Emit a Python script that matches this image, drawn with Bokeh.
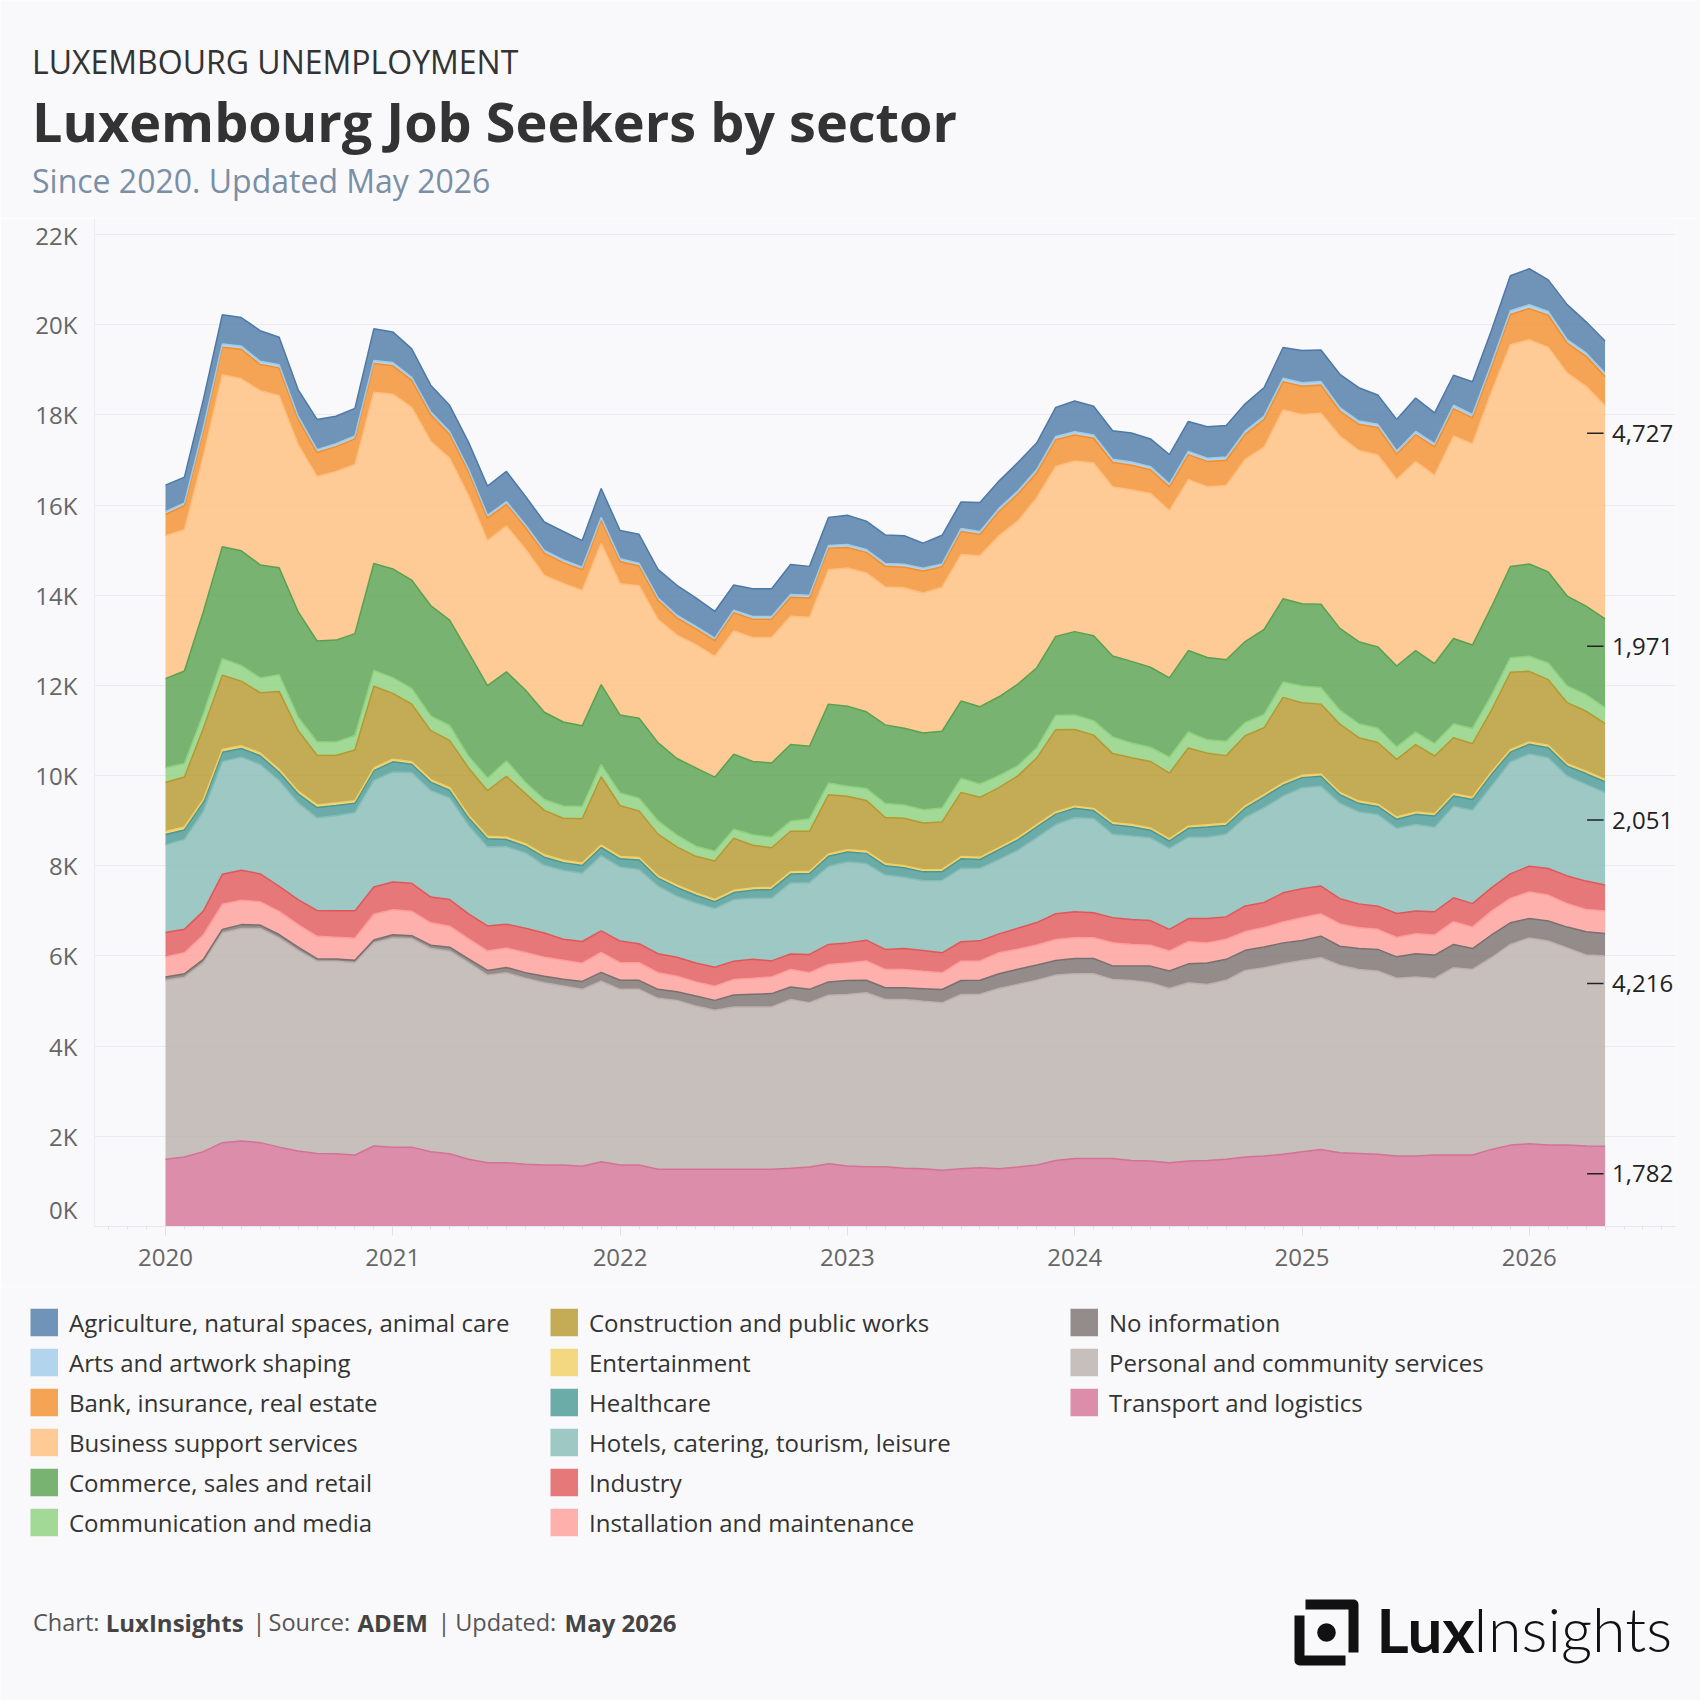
from bokeh.plotting import figure
from bokeh.models import ColumnDataSource, Range1d, FixedTicker
from bokeh.layouts import column
from bokeh.embed import file_html
from bokeh.resources import INLINE
from bokeh.core.properties import value

BG = "#f9f9fb"
FONT = "Open Sans"

# ---------------- data (monthly, Jan 2020 .. May 2026) ----------------
start_year = 2020
n_months = 77

sectors = [
    "Agriculture, natural spaces, animal care",
    "Arts and artwork shaping",
    "Bank, insurance, real estate",
    "Business support services",
    "Commerce, sales and retail",
    "Communication and media",
    "Construction and public works",
    "Entertainment",
    "Healthcare",
    "Hotels, catering, tourism, leisure",
    "Industry",
    "Installation and maintenance",
    "No information",
    "Personal and community services",
    "Transport and logistics",
]
colors = ["#4e79a7", "#a0cbe8", "#f28e2b", "#ffbe7d", "#59a14f", "#8cd17d", "#b6992d",
          "#f1ce63", "#499894", "#86bcb6", "#e15759", "#ff9d9a", "#79706e", "#bab0ac", "#d37295"]

agriculture = [590,570,620,650,630,680,610,590,670,610,610,700,680,630,590,580,590,650,670,630,630,630,590,640,630,
               645,630,665,630,590,560,615,615,665,640,620,650,630,635,635,555,635,590,645,605,630,590,645,680,635,630,
               645,615,650,665,700,700,605,630,680,715,700,740,740,650,700,740,685,665,725,740,775,800,700,775,690,715]
arts = [62,64,66,70,72,70,68,66,64,64,66,70,72,70,68,66,64,62,62,60,60,60,58,62,60,60,
        58,56,56,55,58,58,58,60,60,64,64,64,62,62,62,62,66,66,68,70,72,74,74,72,70,
        70,68,68,72,70,70,72,74,78,78,78,74,72,72,70,72,70,74,74,78,82,84,82,78,76,74]
bank = [470,530,565,610,655,580,620,565,530,550,565,635,630,595,585,525,530,495,480,480,495,460,460,510,495,435,
        420,385,350,350,400,405,405,420,430,475,455,455,455,455,490,455,510,475,540,595,555,590,575,550,545,
        545,525,525,555,560,560,555,615,625,625,625,555,580,610,560,595,630,615,575,550,670,690,715,660,665,645]
business = [3170,3135,3460,3815,3815,3865,3815,3705,3650,3740,3755,3800,3875,3835,3645,3595,3480,3220,3235,3125,3035,3075,3000,3135,2910,
            2940,2735,2735,2735,2680,2735,2750,2785,2845,2860,2980,3065,3080,3060,3120,3105,3195,3250,3345,3570,3620,3770,3770,3785,3830,3750,
            3805,3855,3710,3790,3790,3865,4040,4045,4190,4200,4235,4265,4240,4255,4140,4195,4175,4485,4465,4765,4920,4975,4980,4950,4875,4727]
commerce = [1975,2050,2260,2480,2540,2505,2370,2335,2235,2260,2260,2370,2410,2400,2445,2335,2295,2050,1975,2050,1935,1865,1790,1775,1730,
            1775,1735,1700,1735,1640,1665,1625,1645,1700,1605,1750,1775,1700,1745,1700,1700,1700,1715,1715,1750,1810,1775,1750,1850,1885,1795,
            1810,1775,1760,1805,1825,1805,1795,1885,1845,1825,1845,1815,1820,1805,1795,1805,1775,1890,1850,1960,2025,2045,2020,1995,1960,1971]
communication = [330,300,320,370,350,330,370,300,300,300,320,350,350,350,330,330,260,280,340,250,240,270,270,270,280,
                 280,295,260,225,220,200,235,235,225,280,260,225,265,310,295,295,310,310,295,265,225,225,320,320,320,370,
                 325,315,355,355,295,320,295,295,340,370,370,310,310,315,275,280,275,310,340,330,320,335,370,370,370,355]
construction = [1085,1110,1580,1645,1435,1335,1730,1345,1100,1050,1125,1815,1460,1275,1085,1050,1050,1010,1350,1110,985,930,985,1515,1125,
                1035,925,850,815,850,1155,945,875,900,885,1315,1185,1125,1020,1050,1035,1055,1425,1330,1330,1370,1480,1825,1700,1625,1530,
                1485,1475,1455,1735,1590,1500,1555,1480,1900,1610,1550,1515,1405,1370,1280,1495,1280,1245,1185,1370,1720,1565,1455,1355,1330,1235]
entertainment = [65,65,62,60,60,62,62,60,60,60,58,58,58,58,56,56,55,55,55,55,54,54,54,54,52,
                 52,52,50,50,50,50,50,50,50,50,50,50,50,50,48,48,48,48,48,48,48,48,48,48,48,48,
                 48,48,48,48,48,48,48,50,50,50,50,50,50,50,50,50,50,50,50,50,52,52,52,52,52,52]
healthcare = [230,210,200,210,190,195,185,200,225,225,205,215,225,180,185,170,170,185,155,145,180,170,170,180,185,
              210,175,195,170,155,155,180,195,195,205,220,220,225,205,210,195,195,215,195,220,230,240,230,210,175,210,
              205,170,165,195,225,195,210,240,240,225,220,185,190,180,200,225,250,225,240,265,215,215,225,220,240,240]
hotels = [1945,1995,2215,2500,2510,2425,2345,2145,2055,2105,2180,2365,2440,2460,2365,2255,1960,1750,1720,1675,1500,1530,1515,1670,1640,
          1650,1500,1355,1330,1300,1365,1355,1390,1575,1590,1735,1795,1700,1650,1580,1550,1605,1625,1610,1645,1730,1885,1980,2085,2090,1850,
          1850,1835,1795,1805,1805,1835,1960,2105,2145,2240,2215,2120,2040,2030,1890,1920,1875,2030,2070,2255,2485,2490,2455,2215,2145,2051]
industry = [540,520,530,665,665,620,555,555,575,590,605,605,615,620,570,590,555,555,530,540,540,465,480,475,480,
            420,420,420,420,420,405,420,355,345,405,445,445,460,445,465,460,445,430,445,420,465,495,570,575,555,555,
            555,545,480,515,540,495,570,555,645,645,615,560,530,515,530,500,515,530,520,515,545,570,590,615,630,575]
installation = [445,465,540,555,540,515,515,500,495,480,490,570,555,540,495,465,445,430,430,445,420,420,405,445,390,
                390,370,345,315,315,345,355,370,390,370,385,390,430,405,405,385,370,430,430,465,445,445,465,460,460,515,
                480,465,445,490,445,445,415,430,465,500,495,495,460,445,430,445,445,505,475,530,540,590,575,520,495,500]
no_information = [75,75,75,75,85,75,75,70,55,50,55,60,70,65,75,85,85,105,120,125,145,150,175,195,200,
                  200,200,190,220,220,265,280,295,275,295,295,310,275,260,260,280,295,310,310,325,335,340,325,340,340,300,
                  320,370,385,420,480,465,445,460,465,445,480,420,465,480,475,515,520,515,465,505,480,430,445,460,515,500]
personal = [3970,3990,4190,4655,4715,4750,4640,4450,4265,4270,4265,4510,4640,4625,4505,4495,4360,4160,4210,4125,4040,3970,3925,4005,3895,
            3895,3790,3745,3620,3525,3600,3600,3600,3745,3645,3740,3805,3860,3710,3745,3715,3715,3865,3845,4000,4050,4095,4110,4095,4095,3970,
            3990,3955,3865,3955,3900,3970,4140,4175,4225,4240,4250,4160,4080,4065,3940,3970,3915,4155,4115,4250,4450,4565,4525,4375,4235,4216]
transport = [1490,1540,1660,1860,1895,1860,1760,1675,1620,1615,1585,1785,1760,1760,1660,1615,1490,1415,1415,1380,1365,1365,1335,1435,1365,
             1365,1270,1270,1270,1270,1270,1270,1270,1290,1320,1390,1340,1325,1325,1290,1280,1245,1280,1305,1280,1320,1365,1465,1510,1510,1510,
             1465,1450,1415,1450,1465,1490,1540,1565,1600,1660,1710,1635,1620,1600,1565,1565,1585,1585,1585,1710,1805,1835,1805,1805,1785,1782]

series_values = [agriculture, arts, bank, business, commerce, communication, construction,
                 entertainment, healthcare, hotels, industry, installation, no_information,
                 personal, transport]

years = [2020, 2021, 2022, 2023, 2024, 2025, 2026]
y_ticks = [0, 2000, 4000, 6000, 8000, 10000, 12000, 14000, 16000, 18000, 20000, 22000]

header_lines = ["LUXEMBOURG UNEMPLOYMENT", "Luxembourg Job Seekers by sector", "Since 2020. Updated May 2026"]
footer_parts = [("Chart: ", False), ("LuxInsights", True), ("|", False), ("Source: ", False),
                ("ADEM", True), ("|", False), ("Updated: ", False), ("May 2026", True)]

# ---------------- layout constants (pixels of the page) ----------------
W = 1700
HEAD_H = 218
CHART_H = 1068
BOT_H = 1700 - HEAD_H - CHART_H
FRAME_L, FRAME_R = 94, 1675
FRAME_H = CHART_H - 60
X0 = 2020 - (165 - FRAME_L) / 227.3
X1 = 2020 + (FRAME_R - 165) / 227.3
Y1 = 22355.0
XPP = (X1 - X0) / (FRAME_R - FRAME_L)
YPP = Y1 / FRAME_H

x = [start_year + i / 12.0 for i in range(n_months)]
keys = ["s%d" % k for k in range(len(sectors))]
data = {"x": x}
for k, vals in zip(keys, series_values):
    data[k] = vals
src = ColumnDataSource(data)


def canvas(h, top):
    f = figure(width=W, height=h, x_range=Range1d(0, W), y_range=Range1d(top + h, top),
               x_axis_type=None, y_axis_type=None, output_backend="svg", toolbar_location=None,
               min_border=0, outline_line_color=None, background_fill_color=BG,
               border_fill_color=BG, frame_align=False)
    return f


# ---------------- header ----------------
head = canvas(HEAD_H, 0)
head.text(x=[31.5], y=[60.5], text=[header_lines[0]], text_font=value(FONT), text_font_size="32px",
          text_color="#333333", text_baseline="middle", text_align="left")
head.text(x=[31.5], y=[120.5], text=[header_lines[1]], text_font=value(FONT), text_font_size="54px",
          text_font_style="bold", text_color="#333333", text_baseline="middle", text_align="left")
head.text(x=[31.5], y=[180], text=[header_lines[2]], text_font=value(FONT), text_font_size="32px",
          text_color="#7a8fa6", text_baseline="middle", text_align="left")

# ---------------- chart ----------------
p = figure(width=W, height=CHART_H, x_range=Range1d(X0, X1), y_range=Range1d(0, Y1),
           output_backend="svg", toolbar_location=None, frame_align=False,
           min_border_left=FRAME_L, min_border_right=W - FRAME_R, min_border_top=0, min_border_bottom=60,
           outline_line_color=None, background_fill_color=BG, border_fill_color=BG)

order = list(range(len(sectors)))[::-1]  # bottom of stack first
p.varea_stack(stackers=[keys[k] for k in order], x="x", color=[colors[k] for k in order],
              fill_alpha=0.8, source=src)
p.vline_stack(stackers=[keys[k] for k in order], x="x", color=[colors[k] for k in order],
              line_width=1.5, source=src)

p.xgrid.grid_line_color = None
p.ygrid.ticker = FixedTicker(ticks=y_ticks)
p.ygrid.grid_line_color = "#ebebef"
p.ygrid.grid_line_width = 1

zero_label_pos = round(16.5 * YPP)  # the "0K" label sits a little above the baseline
axis_ticks = [zero_label_pos] + y_ticks[1:]
overrides = {t: "%dK" % (t // 1000) for t in y_ticks[1:]}
overrides[zero_label_pos] = "0K"
p.yaxis.ticker = FixedTicker(ticks=axis_ticks)
p.yaxis.major_label_overrides = overrides
p.yaxis.major_label_text_font = FONT
p.yaxis.major_label_text_font_size = "24px"
p.yaxis.major_label_text_color = "#666666"
p.yaxis.axis_line_color = "#ececf0"
p.yaxis.major_tick_line_color = None
p.yaxis.minor_tick_line_color = None
p.yaxis.major_label_standoff = 11

month_ticks = [2020 + k / 12.0 for k in range(-3, 80)]
p.xaxis.ticker = FixedTicker(ticks=years, minor_ticks=month_ticks)
p.xaxis.major_label_overrides = {yv: str(yv) for yv in years}
p.xaxis.major_label_text_font = FONT
p.xaxis.major_label_text_font_size = "24px"
p.xaxis.major_label_text_color = "#666666"
p.xaxis.axis_line_color = "#e8e8ec"
p.xaxis.major_tick_line_color = "#e2e2e6"
p.xaxis.major_tick_in = 0
p.xaxis.major_tick_out = 9
p.xaxis.minor_tick_line_color = "#e2e2e6"
p.xaxis.minor_tick_in = 0
p.xaxis.minor_tick_out = 3
p.xaxis.major_label_standoff = 13

# value labels for the five largest sectors at the last month
last = {k: series_values[k][-1] for k in range(len(sectors))}
top5 = sorted(last, key=lambda k: -last[k])[:5]
lab_x, lab_y, lab_t = [], [], []
for k in top5:
    top = sum(series_values[j][-1] for j in range(k, len(sectors)))
    lab_x.append(x[-1])
    lab_y.append(top - 27.5 * YPP)
    lab_t.append("{:,}".format(last[k]))
p.segment(x0=[v - 18 * XPP for v in lab_x], x1=[v - 1.5 * XPP for v in lab_x], y0=lab_y, y1=lab_y,
          line_color="#222222", line_width=1.5)
p.text(x=lab_x, y=lab_y, text=lab_t, x_offset=7, text_font=value(FONT), text_font_size="24px",
       text_color="#222222", text_baseline="middle", text_align="left")

# ---------------- legend / footer / logo ----------------
TOP_B = HEAD_H + CHART_H
bot = canvas(BOT_H, TOP_B)

sq_x, sq_y, tx = [], [], []
for idx in range(len(sectors)):
    c, r = idx // 6, idx % 6
    left = 30 + 520 * c
    sq_x.append(left + 13.75)
    sq_y.append(1322 + 40 * r)
    tx.append(left + 38.5)
bot.rect(x=sq_x, y=sq_y, width=27.5, height=27.5, fill_color=colors, fill_alpha=0.8, line_color=None)
bot.text(x=tx, y=sq_y, text=sectors, text_font=value(FONT), text_font_size="24px",
         text_color="#333333", text_baseline="middle", text_align="left")

foot_x = [32.5, 105.2, 252, 268, 357, 437, 454.7, 564]
for (t, bold), fx in zip(footer_parts, foot_x):
    bot.text(x=[fx], y=[1621.5], text=[t], text_font=value(FONT),
             text_font_size="24px" if bold else "23.5px",
             text_font_style="bold" if bold else "normal",
             text_color="#444444" if bold else "#555555", text_baseline="middle", text_align="left")

bot.multi_line(xs=[[1305, 1353, 1353], [1299, 1299, 1345]], ys=[[1604, 1604, 1652], [1615, 1660, 1660]],
               line_width=10, line_color="#111111", line_join="round")
bot.circle(x=[1326], y=[1632], radius=9.3, fill_color="#111111", line_color=None)
bot.text(x=[1376], y=[1628], text=["Lux"], text_font=value("Lato"), text_font_size="62px",
         text_font_style="bold", text_color="#111111", text_baseline="middle", text_align="left")
bot.text(x=[1472], y=[1628], text=["Insights"], text_font=value("Lato Light"), text_font_size="61px",
         text_color="#111111", text_baseline="middle", text_align="left")

layout = column(head, p, bot, spacing=0)
open("out.html", "w").write(file_html(layout, INLINE))
